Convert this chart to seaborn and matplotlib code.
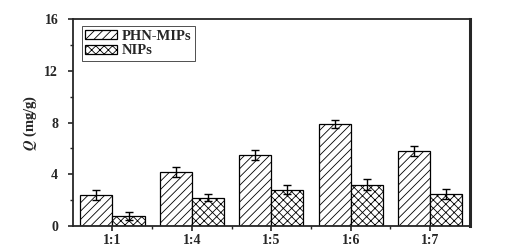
import matplotlib
matplotlib.use("Agg")
import matplotlib.pyplot as plt
from matplotlib.ticker import MultipleLocator
import pandas as pd
import seaborn as sns

ratios = ["1:1", "1:4", "1:5", "1:6", "1:7"]
mips = [2.4, 4.2, 5.5, 7.9, 5.8]
mips_err = [0.35, 0.4, 0.4, 0.3, 0.35]
nips = [0.8, 2.2, 2.8, 3.2, 2.5]
nips_err = [0.3, 0.3, 0.35, 0.4, 0.4]
series = ["PHN-MIPs", "NIPs"]

df = pd.DataFrame({
    "ratio": ratios * 2,
    "Q": mips + nips,
    "err": mips_err + nips_err,
    "kind": [series[0]] * len(ratios) + [series[1]] * len(ratios),
})

sns.set_style("ticks")
plt.rcParams["font.family"] = ["Liberation Serif", "DejaVu Serif"]
plt.rcParams["font.weight"] = "bold"
plt.rcParams["mathtext.fontset"] = "stix"
plt.rcParams["hatch.linewidth"] = 0.6

fig, ax = plt.subplots(figsize=(5.09, 2.49), dpi=100)
fig.subplots_adjust(left=0.143, right=0.923, top=0.924, bottom=0.092)

sns.barplot(data=df, x="ratio", y="Q", hue="kind", order=ratios,
            hue_order=series, errorbar=None, width=0.81, ax=ax,
            palette=["white", "white"], edgecolor="black", linewidth=0.9)

bar_groups = list(ax.containers)
hatches = ["////", "xxxx"]
errs = [mips_err, nips_err]
for cont, h, e in zip(bar_groups, hatches, errs):
    xs = []
    ys = []
    for p in cont.patches:
        p.set_hatch(h)
        p.set_facecolor("white")
        p.set_edgecolor("black")
        xs.append(p.get_x() + p.get_width() / 2)
        ys.append(p.get_height())
    ax.errorbar(xs, ys, yerr=e, fmt="none", ecolor="black",
                elinewidth=1.0, capsize=3, capthick=1.0)

handles = [cont.patches[0] for cont in bar_groups]
leg = ax.legend(handles, series, loc="upper left", fontsize=10.5,
                frameon=True, fancybox=False, handlelength=2.2,
                handleheight=0.55, borderpad=0.25, labelspacing=0.12,
                handletextpad=0.3, borderaxespad=0,
                bbox_to_anchor=(0.022, 0.966))
leg.get_frame().set_edgecolor("black")
leg.get_frame().set_linewidth(0.6)
for t in leg.get_texts():
    t.set_fontweight("bold")

ax.set_ylim(0, 16)
ax.set_xlim(-0.5, 4.5)
ax.yaxis.set_major_locator(MultipleLocator(4))
ax.yaxis.set_minor_locator(MultipleLocator(2))
ax.set_xticks(range(len(ratios)))
ax.set_xticks([i + 0.5 for i in range(len(ratios) - 1)], minor=True)
ax.set_xlabel("")
ax.set_ylabel(r"$\mathbfit{Q}$ (mg/g)", fontsize=10.5, fontweight="bold",
              labelpad=4)

ax.tick_params(axis="both", which="major", direction="out", length=3.5,
               width=1.2, labelsize=10, pad=2)
ax.tick_params(axis="y", which="major", pad=7)
ax.tick_params(axis="both", which="minor", direction="out", length=2,
               width=1.0)
for lbl in ax.get_xticklabels() + ax.get_yticklabels():
    lbl.set_fontweight("bold")

sns.despine(ax=ax, top=False, right=False)
for side in ["left", "bottom", "top"]:
    ax.spines[side].set_linewidth(1.3)
ax.spines["right"].set_linewidth(2.2)

fig.savefig("out.png", dpi=100)
